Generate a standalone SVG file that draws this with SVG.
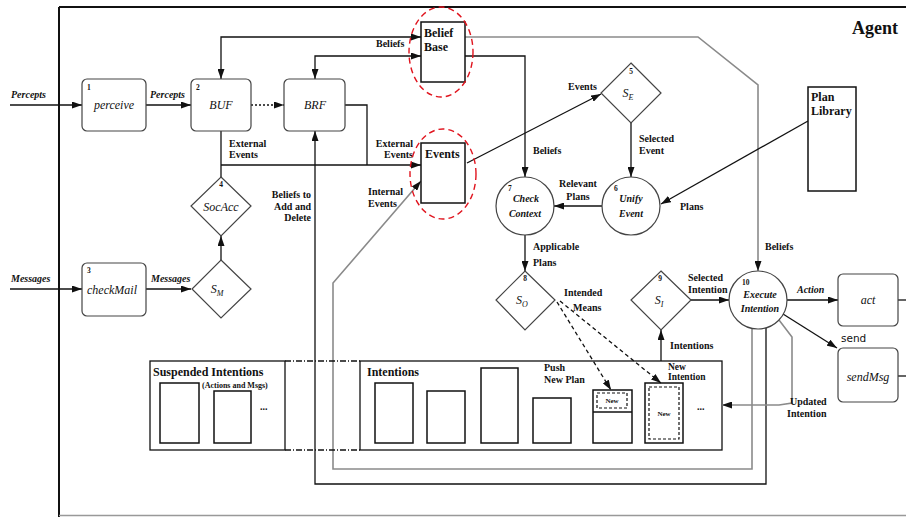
<svg xmlns="http://www.w3.org/2000/svg" width="906" height="517" viewBox="0 0 906 517">
<style>
text{font-family:"Liberation Serif","Times New Roman",serif;fill:#111}
.lb{font-size:10px;font-weight:bold}
.bi{font-size:10px;font-weight:bold;font-style:italic}
.it{font-size:12px;font-style:italic}
.ti{font-size:12px;font-weight:bold}
.num{font-size:7.5px;font-weight:bold}
.sm{font-size:7px;font-weight:bold}
.rb{fill:#fff;stroke:#444;stroke-width:1.2}
.bx{fill:#fff;stroke:#111;stroke-width:1.5}
.ct{fill:none;stroke:#111;stroke-width:1.3}
.sh{fill:#fff;stroke:#444;stroke-width:1.2}
.c{fill:none;stroke:#111;stroke-width:1.3}
.g{fill:none;stroke:#8a8a8a;stroke-width:1.6}
.red{fill:none;stroke:#e0141e;stroke-width:1.4;stroke-dasharray:6 4}
</style>
<defs>
<marker id="ah" markerUnits="userSpaceOnUse" markerWidth="10" markerHeight="7" refX="10" refY="3.5" orient="auto-start-reverse">
<path d="M0,0 L10,3.5 L0,7 z" fill="#111"/>
</marker>
</defs>
<g id="frame">
<path d="M59,7 H906" stroke="#111" stroke-width="2" fill="none"/>
<path d="M59,7 V517" stroke="#111" stroke-width="2" fill="none"/>
<path d="M59,515.5 H906" stroke="#999" stroke-width="1.5" fill="none"/>
<text x="852" y="34" style="font-size:18px;font-weight:bold">Agent</text>
</g>
<g id="suspended">
<rect class="ct" x="150" y="361" width="135" height="89"/>
<text class="ti" x="153" y="376">Suspended Intentions</text>
<text class="sm" x="202" y="388" style="font-size:8px">(Actions and Msgs)</text>
<rect class="bx" x="160" y="383" width="39" height="60"/>
<rect class="bx" x="214" y="391" width="37" height="52"/>
<text class="lb" x="260" y="410">...</text>
</g>
<g id="intentions">
<rect class="ct" x="360" y="361" width="362" height="89"/>
<text class="ti" x="367" y="376">Intentions</text>
<rect class="bx" x="375" y="383" width="38" height="60"/>
<rect class="bx" x="427" y="391" width="38" height="52"/>
<rect class="bx" x="481" y="368" width="37" height="75"/>
<rect class="bx" x="533" y="398" width="38" height="45"/>
<rect class="bx" x="593" y="390" width="39" height="53"/>
<path d="M593,412 H632" stroke="#111" stroke-width="1.3"/>
<rect x="597" y="393" width="30" height="15" fill="none" stroke="#111" stroke-width="1.2" stroke-dasharray="3 2"/>
<text class="sm" x="612" y="403" text-anchor="middle">New</text>
<rect class="bx" x="645" y="383" width="38" height="60"/>
<rect x="649" y="387" width="30" height="52" fill="none" stroke="#111" stroke-width="1.2" stroke-dasharray="3 2"/>
<text class="sm" x="664" y="416" text-anchor="middle">New</text>
<text class="lb" x="544" y="371">Push</text>
<text class="lb" x="544" y="383">New Plan</text>
<text class="lb" x="668" y="370" style="font-size:9.5px">New</text>
<text class="lb" x="668" y="380" style="font-size:9.5px">Intention</text>
<text class="lb" x="697" y="410">...</text>
</g>
<g id="connectors">
<path class="c" d="M10,105 H82" marker-end="url(#ah)"/>
<path class="c" d="M146,105 H191" marker-end="url(#ah)"/>
<path class="c" d="M251,105 H284" stroke-dasharray="2 2" marker-end="url(#ah)"/>
<path class="c" d="M421,37 H221 V79" marker-start="url(#ah)" marker-end="url(#ah)"/>
<path class="c" d="M421,56 H315 V79" marker-start="url(#ah)" marker-end="url(#ah)"/>
<path class="c" d="M465,56 H525 V177" marker-end="url(#ah)"/>
<path class="g" d="M465,37 H698 L758,85 V271" marker-end="url(#ah)"/>
<path class="c" d="M221,131 V177"/>
<path class="c" d="M221,165 H421" marker-end="url(#ah)"/>
<path class="c" d="M345,105 H367 V165"/>
<path class="c" d="M221,260 V236" marker-end="url(#ah)"/>
<path class="c" d="M10,289 H82" marker-end="url(#ah)"/>
<path class="c" d="M146,289 H191" marker-end="url(#ah)"/>
<path class="c" d="M766,328 V484 H315 V131" marker-end="url(#ah)"/>
<path class="g" d="M752,328 V469 H333 V283 L421,181" marker-end="url(#ah)"/>
<path class="c" d="M467,163 L601,94" marker-end="url(#ah)"/>
<path class="c" d="M631,123 V177" marker-end="url(#ah)"/>
<path class="c" d="M602,206 H554" marker-end="url(#ah)"/>
<path class="c" d="M808,121 L661,204" marker-end="url(#ah)"/>
<path class="c" d="M525,235 V271" marker-end="url(#ah)"/>
<path class="c" d="M557,302 L611,390" stroke-dasharray="4 3" marker-end="url(#ah)"/>
<path class="c" d="M560,301 L661,383" stroke-dasharray="4 3" marker-end="url(#ah)"/>
<path class="c" d="M661,361 V330" marker-end="url(#ah)"/>
<path class="c" d="M691,300 H729" marker-end="url(#ah)"/>
<path class="c" d="M787,300 H838" marker-end="url(#ah)"/>
<path class="c" d="M898,300 H906"/>
<path class="c" d="M783,314 L837,348" marker-end="url(#ah)"/>
<path class="c" d="M898,376 H906"/>
<path class="g" d="M779,320 L792,337 V403 L779,405 H722" marker-end="url(#ah)"/>
<path class="c" d="M285,361 H360 M285,450 H360" stroke-dasharray="6 2 1 2"/>
</g>
<g id="labels">
<text class="bi" x="11" y="98">Percepts</text>
<text class="bi" x="150" y="98">Percepts</text>
<text class="bi" x="11" y="282">Messages</text>
<text class="bi" x="151" y="282">Messages</text>
<text class="lb" x="376" y="47">Beliefs</text>
<text class="lb" x="229" y="147">External</text>
<text class="lb" x="229" y="158">Events</text>
<text class="lb" x="413" y="147" text-anchor="end">External</text>
<text class="lb" x="413" y="158" text-anchor="end">Events</text>
<text class="lb" x="311" y="198" text-anchor="end">Beliefs to</text>
<text class="lb" x="311" y="210" text-anchor="end">Add and</text>
<text class="lb" x="311" y="221" text-anchor="end">Delete</text>
<text class="lb" x="368" y="195">Internal</text>
<text class="lb" x="368" y="207">Events</text>
<text class="lb" x="533" y="154">Beliefs</text>
<text class="lb" x="568" y="90">Events</text>
<text class="lb" x="639" y="142">Selected</text>
<text class="lb" x="639" y="154">Event</text>
<text class="lb" x="578" y="187" text-anchor="middle">Relevant</text>
<text class="lb" x="578" y="200" text-anchor="middle">Plans</text>
<text class="lb" x="680" y="210">Plans</text>
<text class="lb" x="533" y="250">Applicable</text>
<text class="lb" x="533" y="266">Plans</text>
<text class="lb" x="564" y="296">Intended</text>
<text class="lb" x="573" y="311">Means</text>
<text class="lb" x="688" y="281">Selected</text>
<text class="lb" x="688" y="293">Intention</text>
<text class="lb" x="670" y="349">Intentions</text>
<text class="lb" x="765" y="250">Beliefs</text>
<text class="bi" x="797" y="293">Action</text>
<text x="841" y="342" style="font-family:'DejaVu Sans',sans-serif;font-size:10.5px">send</text>
<text class="lb" x="790" y="405">Updated</text>
<text class="lb" x="787" y="417">Intention</text>
</g>
<g id="perceive"><rect class="rb" x="82" y="79" width="64" height="52" rx="5"/><text class="num" x="87" y="90">1</text><text class="it" x="114" y="109" text-anchor="middle">perceive</text></g>
<g id="BUF"><rect class="rb" x="191" y="79" width="60" height="52" rx="5"/><text class="num" x="196" y="90">2</text><text class="it" x="221" y="109" text-anchor="middle">BUF</text></g>
<g id="BRF"><rect class="rb" x="284" y="79" width="61" height="52" rx="5"/><text class="it" x="315" y="109" text-anchor="middle">BRF</text></g>
<g id="checkMail"><rect class="rb" x="82" y="263" width="64" height="53" rx="5"/><text class="num" x="87" y="273">3</text><text class="it" x="112" y="294" text-anchor="middle">checkMail</text></g>
<g id="act"><rect class="rb" x="838" y="274" width="60" height="52" rx="5"/><text class="it" x="868" y="304" text-anchor="middle">act</text></g>
<g id="sendMsg"><rect class="rb" x="838" y="348" width="60" height="54" rx="5"/><text class="it" x="868" y="381" text-anchor="middle">sendMsg</text></g>
<g id="beliefbase"><rect class="bx" x="421" y="22" width="44" height="60"/><text class="ti" x="424" y="37">Belief</text><text class="ti" x="424" y="51">Base</text><ellipse class="red" cx="441" cy="52" rx="32" ry="45"/></g>
<g id="events"><rect class="bx" x="421" y="143" width="44" height="60"/><text class="ti" x="425" y="158">Events</text><ellipse class="red" cx="443" cy="174" rx="33" ry="45"/></g>
<g id="planlibrary"><rect class="bx" x="808" y="87" width="48" height="104"/><text class="ti" x="811" y="101">Plan</text><text class="ti" x="811" y="115">Library</text></g>
<g id="checkcontext"><circle class="sh" cx="525" cy="206" r="29"/><text class="num" x="508" y="191">7</text><text class="bi" x="526" y="202" text-anchor="middle">Check</text><text class="bi" x="525" y="217" text-anchor="middle">Context</text></g>
<g id="unifyevent"><circle class="sh" cx="631" cy="206" r="29"/><text class="num" x="614" y="191">6</text><text class="bi" x="631" y="202" text-anchor="middle">Unify</text><text class="bi" x="631" y="217" text-anchor="middle">Event</text></g>
<g id="execute"><circle class="sh" cx="758" cy="300" r="29"/><text class="num" x="742" y="285">10</text><text class="bi" x="760" y="298" text-anchor="middle">Execute</text><text class="bi" x="760" y="312" text-anchor="middle">Intention</text></g>
<g id="socacc"><path class="sh" d="M221,177 L251,206 L221,236 L191,206 Z"/><text class="num" x="221" y="187" text-anchor="middle">4</text><text class="it" x="221" y="211" text-anchor="middle">SocAcc</text></g>
<g id="SM"><path class="sh" d="M221,260 L251,289 L221,318 L192,289 Z"/><text class="it" x="217" y="293" text-anchor="middle">S<tspan font-size="8" dy="3">M</tspan></text></g>
<g id="SE"><path class="sh" d="M631,63 L661,93 L631,123 L601,93 Z"/><text class="num" x="631" y="74" text-anchor="middle">5</text><text class="it" x="628" y="97" text-anchor="middle">S<tspan font-size="8" dy="3">E</tspan></text></g>
<g id="SO"><path class="sh" d="M525,271 L555,300 L525,330 L496,300 Z"/><text class="num" x="525" y="281" text-anchor="middle">8</text><text class="it" x="522" y="304" text-anchor="middle">S<tspan font-size="8" dy="3">O</tspan></text></g>
<g id="SI"><path class="sh" d="M661,271 L691,300 L661,330 L631,300 Z"/><text class="num" x="660" y="281" text-anchor="middle">9</text><text class="it" x="659" y="304" text-anchor="middle">S<tspan font-size="8" dy="3">I</tspan></text></g>
</svg>
